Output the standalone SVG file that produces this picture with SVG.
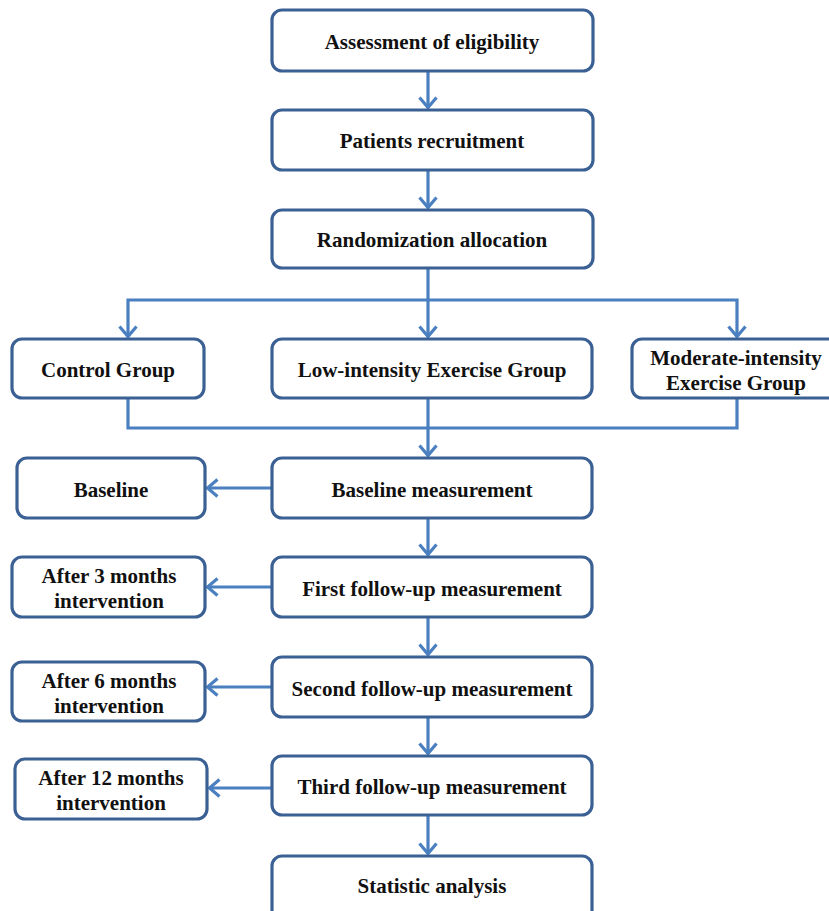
<svg xmlns="http://www.w3.org/2000/svg" width="829" height="911" viewBox="0 0 829 911">
<style>
.box{fill:#fff;stroke:#3b6194;stroke-width:3.2}
.t{font-family:"Liberation Serif","Times New Roman",serif;font-weight:bold;font-size:21px;fill:#111;text-anchor:middle}
.c{fill:none;stroke:#4a7fc0;stroke-width:3.2}
</style>
<defs>
<marker id="ah" viewBox="0 0 14 20" refX="12.5" refY="10" markerWidth="14" markerHeight="20" markerUnits="userSpaceOnUse" orient="auto">
<polyline points="2,1.5 12,10 2,18.5" fill="none" stroke="#4a7fc0" stroke-width="3.2"/>
</marker>
</defs>
<rect width="829" height="911" fill="#fff"/>
<g id="connectors">
<line class="c" x1="428" y1="71" x2="428" y2="108" marker-end="url(#ah)"/>
<line class="c" x1="428" y1="170" x2="428" y2="208" marker-end="url(#ah)"/>
<line class="c" x1="428" y1="268" x2="428" y2="337" marker-end="url(#ah)"/>
<polyline class="c" points="428,300 128,300 128,337" marker-end="url(#ah)"/>
<polyline class="c" points="428,300 737,300 737,337" marker-end="url(#ah)"/>
<polyline class="c" points="128,398 128,428 737,428 737,398"/>
<line class="c" x1="428" y1="398" x2="428" y2="456" marker-end="url(#ah)"/>
<line class="c" x1="428" y1="518" x2="428" y2="555" marker-end="url(#ah)"/>
<line class="c" x1="428" y1="617" x2="428" y2="655" marker-end="url(#ah)"/>
<line class="c" x1="428" y1="717" x2="428" y2="754" marker-end="url(#ah)"/>
<line class="c" x1="428" y1="815" x2="428" y2="854" marker-end="url(#ah)"/>
<line class="c" x1="272" y1="488" x2="207" y2="488" marker-end="url(#ah)"/>
<line class="c" x1="272" y1="587" x2="207" y2="587" marker-end="url(#ah)"/>
<line class="c" x1="272" y1="687" x2="207" y2="687" marker-end="url(#ah)"/>
<line class="c" x1="272" y1="788" x2="209" y2="788" marker-end="url(#ah)"/>
</g>
<g id="n1"><rect class="box" x="272" y="10" width="321" height="61" rx="10"/><text class="t" x="432" y="49">Assessment of eligibility</text></g>
<g id="n2"><rect class="box" x="272" y="110" width="321" height="60" rx="10"/><text class="t" x="432" y="148">Patients recruitment</text></g>
<g id="n3"><rect class="box" x="272" y="210" width="321" height="58" rx="10"/><text class="t" x="432" y="247">Randomization allocation</text></g>
<g id="n4"><rect class="box" x="12" y="339" width="192" height="59" rx="10"/><text class="t" x="108" y="377">Control Group</text></g>
<g id="n5"><rect class="box" x="272" y="339" width="320" height="59" rx="10"/><text class="t" x="432" y="377">Low-intensity Exercise Group</text></g>
<g id="n6"><rect class="box" x="632" y="339" width="210" height="59" rx="10"/><text class="t" x="736" y="365">Moderate-intensity</text><text class="t" x="736" y="390">Exercise Group</text></g>
<g id="n7"><rect class="box" x="272" y="458" width="320" height="60" rx="10"/><text class="t" x="432" y="497">Baseline measurement</text></g>
<g id="n8"><rect class="box" x="17" y="458" width="188" height="60" rx="10"/><text class="t" x="111" y="497">Baseline</text></g>
<g id="n9"><rect class="box" x="272" y="557" width="320" height="60" rx="10"/><text class="t" x="432" y="596">First follow-up measurement</text></g>
<g id="n10"><rect class="box" x="12" y="557" width="193" height="60" rx="10"/><text class="t" x="109" y="583">After 3 months</text><text class="t" x="109" y="608">intervention</text></g>
<g id="n11"><rect class="box" x="272" y="657" width="320" height="60" rx="10"/><text class="t" x="432" y="696">Second follow-up measurement</text></g>
<g id="n12"><rect class="box" x="12" y="662" width="193" height="59" rx="10"/><text class="t" x="109" y="688">After 6 months</text><text class="t" x="109" y="713">intervention</text></g>
<g id="n13"><rect class="box" x="272" y="756" width="320" height="59" rx="10"/><text class="t" x="432" y="794">Third follow-up measurement</text></g>
<g id="n14"><rect class="box" x="15" y="759" width="192" height="60" rx="10"/><text class="t" x="111" y="785">After 12 months</text><text class="t" x="111" y="810">intervention</text></g>
<g id="n15"><rect class="box" x="272" y="856" width="320" height="70" rx="10"/><text class="t" x="432" y="893">Statistic analysis</text></g>
</svg>
